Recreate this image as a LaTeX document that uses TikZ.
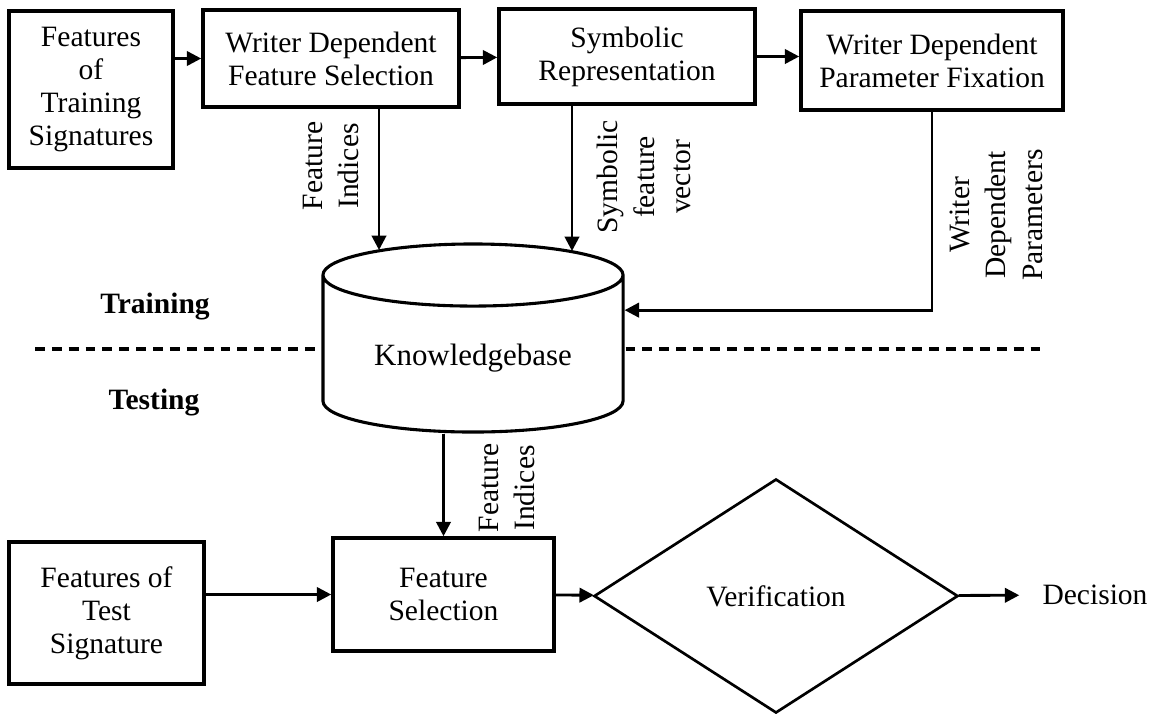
\documentclass[tikz,border=0pt]{standalone}
\usepackage{fontspec}
\setmainfont{Liberation Serif}
\usetikzlibrary{shapes.geometric,arrows.meta}

\begin{document}
\begin{tikzpicture}[x=0.025cm,y=-0.025cm,
	block_node/.style={rectangle,draw,line width=2.5pt,align=center,font=\fontsize{21}{23.5}\selectfont,inner sep=2pt},
	side_label/.style={rotate=90,align=center,font=\fontsize{21}{26}\selectfont,inner sep=0pt},
	phase_label/.style={font=\bfseries\fontsize{21}{24}\selectfont},
	flow_arrow/.style={line width=2pt,-{Triangle[length=0.36cm,width=0.36cm]}}]

	\useasboundingbox (0,0) rectangle (1156,713);

	% training
	\node[block_node,minimum width=4.1cm,minimum height=3.925cm] (train) at (91,89.5) {Features\\of\\Training\\Signatures};
	\node[block_node,minimum width=6.4cm,minimum height=2.425cm] (wdfs) at (331,58.5) {Writer Dependent\\Feature Selection};
	\node[block_node,minimum width=6.4cm,minimum height=2.375cm] (symrep) at (627,56.5) {Symbolic\\Representation};
	\node[block_node,minimum width=6.55cm,minimum height=2.475cm] (wdpf) at (932,60.5) {Writer Dependent\\Parameter Fixation};

	\draw[line width=2.2pt,dash pattern=on 7pt off 5pt] (35,349) -- (1043,349);
	\node[cylinder,shape border rotate=90,aspect=0.3,draw,fill=white,line width=2.2pt,minimum width=7.5cm,minimum height=4.7cm,anchor=shape center,font=\fontsize{22}{26}\selectfont] (kb) at (473,338) {Knowledgebase};

	\node[phase_label] (training) at (155,307) {Training};
	\node[phase_label] (testing) at (154,403) {Testing};

	\coordinate (kb_fi) at (379,250);
	\coordinate (kb_sfv) at (572,251);

	\node[side_label] (fi_top) at (331,166) {Feature\\Indices};
	\node[side_label] (sfv) at (644,177) {Symbolic\\feature\\vector};
	\node[side_label] (wdp) at (996,215) {Writer\\Dependent\\Parameters};

	% testing
	\node[block_node,minimum width=4.875cm,minimum height=3.55cm] (testfeat) at (106.5,613) {Features of\\Test\\Signature};
	\node[block_node,minimum width=5.525cm,minimum height=2.825cm] (fsel) at (443.5,594.5) {Feature\\Selection};
	\node[diamond,draw,line width=1.9pt,aspect=1.556,minimum width=9.1cm,minimum height=5.85cm,inner sep=0pt,font=\fontsize{21}{24}\selectfont] (verif) at (776,596) {Verification};
	\node[font=\fontsize{21}{24}\selectfont,inner xsep=0.575cm] (decision) at (1095,595) {Decision};
	\node[side_label] (fi_low) at (507,488) {Feature\\Indices};

	\draw[flow_arrow] (train.east |- wdfs) -- (wdfs);
	\draw[flow_arrow] (wdfs) -- (symrep);
	\draw[flow_arrow] (symrep) -- (symrep -| wdpf.west);
	\draw[flow_arrow] (wdfs.south -| kb_fi) -- (kb_fi);
	\draw[flow_arrow] (symrep.south -| kb_sfv) -- (kb_sfv);
	\draw[flow_arrow] (wdpf.south) |- ([yshift=1.2cm]kb.east);
	\draw[flow_arrow] (kb.south -| fsel.north) -- (fsel.north);
	\draw[flow_arrow] (testfeat.east |- fsel) -- (fsel);
	\draw[flow_arrow] (fsel) -- (verif);
	\draw[flow_arrow] (verif) -- (decision);
\end{tikzpicture}
\end{document}
